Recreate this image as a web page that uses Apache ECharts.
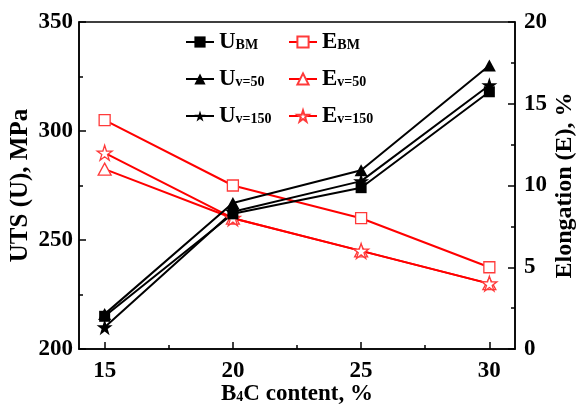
<!DOCTYPE html>
<html>
<head>
<meta charset="utf-8">
<script src="https://cdn.jsdelivr.net/npm/echarts@6/dist/echarts.min.js"></script>
<style>html,body{margin:0;padding:0;background:#fff}#c{width:581px;height:407px}</style>
</head>
<body>
<div id="c"></div>
<script>
var xValues = [15, 20, 25, 30];
var xTickLabels = [15, 20, 25, 30];
var xMinorTicks = [17.5, 22.5, 27.5];
var U_BM = [215, 262, 274, 318];
var U_v50 = [216, 267, 282, 330];
var U_v150 = [210, 263, 277, 321];
var E_BM = [14, 10, 8, 5];
var E_v50 = [11, 8, 6, 4];
var E_v150 = [12, 8, 6, 4];

var FONT = "'Liberation Serif','Times New Roman',serif";
var STAR = 'path://M50 0 L61.23 34.55 L97.55 34.55 L68.17 55.9 L79.39 90.45 L50 69.1 L20.61 90.45 L31.83 55.9 L2.45 34.55 L38.77 34.55 Z';
var RED = '#ff0000';
var RED_M = '#ff3a3a';

function pairs(arr) { return xValues.map(function (x, i) { return [x, arr[i]]; }); }

var labelMap = {
  'U_BM': '{b|U}{s|BM}', 'U_v50': '{b|U}{s|v=50}', 'U_v150': '{b|U}{s|v=150}',
  'E_BM': '{b|E}{s|BM}', 'E_v50': '{b|E}{s|v=50}', 'E_v150': '{b|E}{s|v=150}'
};
var legendRich = {
  b: { fontSize: 23, fontWeight: 'bold', fontFamily: FONT, color: '#000', lineHeight: 24, verticalAlign: 'bottom' },
  s: { fontSize: 14, fontWeight: 'bold', fontFamily: FONT, color: '#000', lineHeight: 24, verticalAlign: 'bottom', padding: [0, 0, 2, 0] }
};
function mkLegend(name, left, top) {
  return {
    data: [name], left: left, top: top, orient: 'vertical', padding: 0,
    itemWidth: 28, itemHeight: 14, selectedMode: false,
    formatter: function (n) { return labelMap[n]; },
    textStyle: { rich: legendRich }
  };
}

var blackLine = { color: '#000', width: 2 };
var redLine = { color: RED, width: 2 };

var option = {
  animation: false,
  backgroundColor: '#fff',
  grid: { left: 79, right: 66, top: 22, bottom: 58, containLabel: false, outerBoundsMode: 'none',
    show: true, borderColor: '#000', borderWidth: 1.5, backgroundColor: 'transparent' },
  legend: [
    mkLegend('U_BM', 185, 31), mkLegend('U_v50', 185, 68), mkLegend('U_v150', 185, 105),
    mkLegend('E_BM', 288, 31), mkLegend('E_v50', 288, 68), mkLegend('E_v150', 288, 105)
  ],
  xAxis: [{
    type: 'value', min: 14, max: 31, position: 'bottom',
    name: 'B{s|4}C content, %', nameLocation: 'middle', nameGap: 34, nameMoveOverlap: false,
    nameTextStyle: { fontSize: 23, fontWeight: 'bold', fontFamily: FONT, color: '#000',
      rich: { s: { fontSize: 14, fontWeight: 'bold', fontFamily: FONT, color: '#000', verticalAlign: 'bottom', padding: [0, 0, 2, 0] } } },
    axisLine: { lineStyle: { color: '#000', width: 1.5 } },
    axisTick: { inside: true, length: 7, customValues: xTickLabels, lineStyle: { color: '#000', width: 1.5 } },
    axisLabel: { customValues: xTickLabels, margin: 11, fontSize: 23, fontWeight: 'bold', fontFamily: FONT, color: '#000' },
    splitLine: { show: false }
  }, {
    type: 'value', min: 14, max: 31, position: 'bottom', offset: 0,
    axisLine: { show: false },
    axisTick: { inside: true, length: 4, customValues: xMinorTicks, lineStyle: { color: '#000', width: 1.5 } },
    axisLabel: { show: false },
    splitLine: { show: false }
  }],
  yAxis: [{
    type: 'value', min: 200, max: 350, interval: 50, position: 'left',
    name: 'UTS (U), MPa', nameLocation: 'middle', nameGap: 46, nameRotate: 90, nameMoveOverlap: false,
    nameTextStyle: { fontSize: 25, fontWeight: 'bold', fontFamily: FONT, color: '#000' },
    axisLine: { show: true, lineStyle: { color: '#000', width: 1.5 } },
    axisTick: { inside: true, length: 7, lineStyle: { color: '#000', width: 1.5 } },
    minorTick: { show: true, splitNumber: 2, length: 4, lineStyle: { color: '#000', width: 1.5 } },
    axisLabel: { margin: 6, fontSize: 23, fontWeight: 'bold', fontFamily: FONT, color: '#000' },
    splitLine: { show: false }
  }, {
    type: 'value', min: 0, max: 20, interval: 5, position: 'right',
    name: 'Elongation (E), %', nameLocation: 'middle', nameGap: 38, nameRotate: 90, nameMoveOverlap: false,
    nameTextStyle: { fontSize: 24, fontWeight: 'bold', fontFamily: FONT, color: '#000' },
    axisLine: { show: true, lineStyle: { color: '#000', width: 1.5 } },
    axisTick: { inside: true, length: 7, lineStyle: { color: '#000', width: 1.5 } },
    minorTick: { show: true, splitNumber: 2, length: 4, lineStyle: { color: '#000', width: 1.5 } },
    axisLabel: { margin: 9, fontSize: 23, fontWeight: 'bold', fontFamily: FONT, color: '#000' },
    splitLine: { show: false }
  }],
  series: [
    { name: 'E_BM', type: 'line', xAxisIndex: 0, yAxisIndex: 1, data: pairs(E_BM), symbol: 'rect', symbolSize: 11,
      lineStyle: redLine, itemStyle: { color: '#fff', borderColor: RED_M, borderWidth: 1.3 } },
    { name: 'E_v50', type: 'line', xAxisIndex: 0, yAxisIndex: 1, data: pairs(E_v50), symbol: 'triangle', symbolSize: [13, 12],
      lineStyle: redLine, itemStyle: { color: '#fff', borderColor: RED_M, borderWidth: 1.3 } },
    { name: 'E_v150', type: 'line', xAxisIndex: 0, yAxisIndex: 1, data: pairs(E_v150), symbol: STAR, symbolSize: 15,
      lineStyle: redLine, itemStyle: { color: '#fff', borderColor: RED_M, borderWidth: 1.3 } },
    { name: 'U_BM', type: 'line', xAxisIndex: 0, yAxisIndex: 0, data: pairs(U_BM), symbol: 'rect', symbolSize: 11,
      lineStyle: blackLine, itemStyle: { color: '#000' } },
    { name: 'U_v50', type: 'line', xAxisIndex: 0, yAxisIndex: 0, data: pairs(U_v50), symbol: 'triangle', symbolSize: [13, 12],
      lineStyle: blackLine, itemStyle: { color: '#000' } },
    { name: 'U_v150', type: 'line', xAxisIndex: 0, yAxisIndex: 0, data: pairs(U_v150), symbol: STAR, symbolSize: 16,
      lineStyle: blackLine, itemStyle: { color: '#000' } }
  ]
};
var chart = echarts.init(document.getElementById('c'), null, { renderer: 'canvas' });
chart.setOption(option);
</script>
</body>
</html>
